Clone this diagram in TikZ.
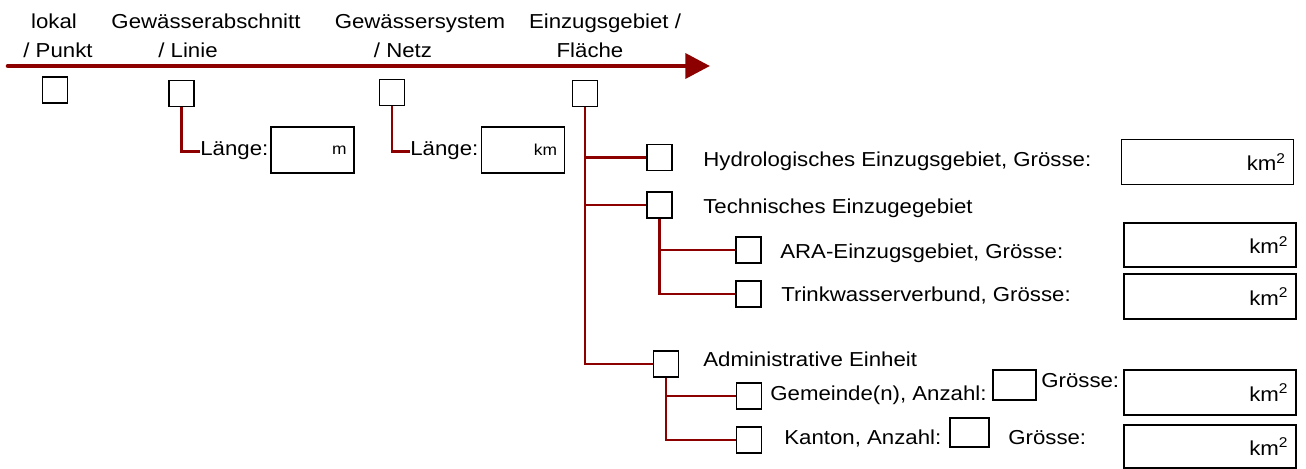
\documentclass[tikz,border=0pt]{standalone}
\usepackage{fontspec}
\setmainfont{Liberation Sans}[FakeStretch=1.1]
\usetikzlibrary{arrows.meta}
\definecolor{axisred}{RGB}{140,0,0}
\tikzset{
  chk/.style={draw, line width=0.9pt, minimum width=0.5cm, minimum height=0.52cm, inner sep=0pt},
  lbl/.style={anchor=base west, inner sep=0pt},
  top/.style={anchor=base, inner sep=0pt},
  kmfld/.style={draw, line width=0.9pt, inner xsep=0.15cm, inner ysep=0pt, align=right, text width=3.14cm, minimum height=0.9cm},
  lfld/.style={draw, line width=0.9pt, inner xsep=0.15cm, inner ysep=0pt, align=right, text width=1.36cm, minimum height=0.92cm, font=\fontsize{9}{11}\selectfont},
  conn/.style={draw=axisred, line width=1.6pt},
  axis/.style={draw=axisred, line width=2.6pt, line cap=round, -{Triangle[length=14pt,width=14pt]}},
}
\begin{document}
\begin{tikzpicture}[x=0.02cm, y=-0.02cm, font=\fontsize{11.5}{16.4}\selectfont]
\useasboundingbox (0,0) rectangle (1306,469);

% scale axis
\coordinate (ax0) at (8,66);
\coordinate (ax1) at (710,66);
\draw[axis] (ax0) -- (ax1);

\node[top] (lok1) at (54,29) {lokal};
\node[top] (lok2) at (58,58) {/ Punkt};
\node[top] (abs1) at (206,29) {Gewässerabschnitt};
\node[top] (abs2) at (188,58) {/ Linie};
\node[top] (sys1) at (420,29) {Gewässersystem};
\node[top] (sys2) at (403,58) {/ Netz};
\node[top] (ezg1) at (605,29) {Einzugsgebiet /};
\node[top] (ezg2) at (590,58) {Fläche};

\node[chk] (c_lok) at (55,90) {};
\node[chk] (c_abs) at (181.5,93.5) {};
\node[chk] (c_sys) at (392,92.5) {};
\node[chk] (c_ezg) at (585,93.5) {};

% lengths
\node[lbl] (l_abs) at (200,156) {Länge:};
\node[lfld, minimum width=1.66cm] (f_m) at (312.5,150) {m};
\node[lbl] (l_sys) at (410,156) {Länge:};
\node[lfld, minimum width=1.64cm] (f_km) at (523,150) {km};
\draw[conn] (c_abs.south) |- (l_abs.west);
\draw[conn] (c_sys.south) |- (l_sys.west);

% areas
\node[chk] (c_hyd) at (659.5,157.5) {};
\node[chk] (c_tech) at (659.5,205) {};
\node[chk] (c_ara) at (748.5,250) {};
\node[chk] (c_trw) at (748.5,294) {};
\node[chk] (c_adm) at (666,364) {};
\node[chk] (c_gem) at (749,396) {};
\node[chk] (c_kan) at (749,440) {};

\node[lbl] (t_hyd) at (703,167) {Hydrologisches Einzugsgebiet, Grösse:};
\node[lbl] (t_tech) at (703,214) {Technisches Einzugegebiet};
\node[lbl] (t_ara) at (780,259) {ARA-Einzugsgebiet, Grösse:};
\node[lbl] (t_trw) at (781,302) {Trinkwasserverbund, Grösse:};
\node[lbl] (t_adm) at (703,367) {Administrative Einheit};
\node[lbl] (t_gem) at (770,401) {Gemeinde(n), Anzahl:};
\node[lbl] (t_gem2) at (1041,388) {Grösse:};
\node[lbl] (t_kan) at (784,445) {Kanton, Anzahl:};
\node[lbl] (t_kan2) at (1008,445) {Grösse:};

\node[chk, minimum width=0.86cm, minimum height=0.6cm] (n_gem) at (1014.5,385) {};
\node[chk, minimum width=0.78cm, minimum height=0.58cm] (n_kan) at (969.5,432.5) {};

\node[kmfld] (f_hyd) at (1207.5,162) {km\textsuperscript{2}};
\node[kmfld, minimum height=0.88cm] (f_ara) at (1210,245) {km\textsuperscript{2}};
\node[kmfld] (f_trw) at (1210,296.5) {km\textsuperscript{2}};
\node[kmfld] (f_gem) at (1210,392.5) {km\textsuperscript{2}};
\node[kmfld, minimum height=0.86cm] (f_kan) at (1210,446.5) {km\textsuperscript{2}};

\draw[conn] (c_ezg.south) |- (c_hyd.west);
\draw[conn] (c_ezg.south) |- (c_tech.west);
\draw[conn] (c_ezg.south) |- (c_adm.west);
\draw[conn] (c_tech.south) |- (c_ara.west);
\draw[conn] (c_tech.south) |- (c_trw.west);
\draw[conn] (c_adm.south) |- (c_gem.west);
\draw[conn] (c_adm.south) |- (c_kan.west);

\end{tikzpicture}
\end{document}
